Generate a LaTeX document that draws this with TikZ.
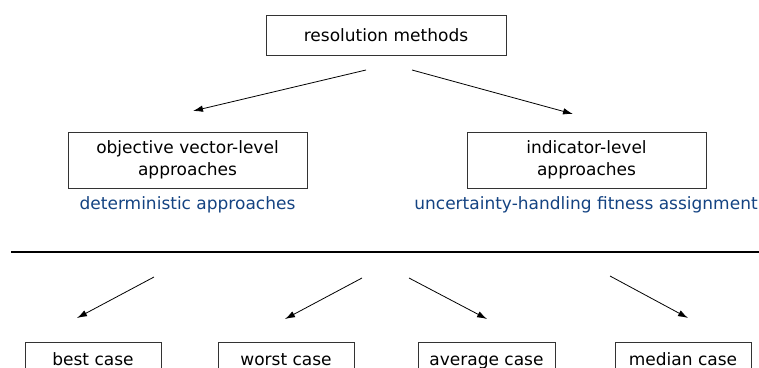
\documentclass[tikz,border=0pt]{standalone}
\usepackage{fontspec}
\setmainfont{DejaVu Sans}
\usetikzlibrary{arrows.meta}
\definecolor{labelblue}{HTML}{144382}
\begin{document}
\begin{tikzpicture}[x=1pt,y=-1pt,
  box/.style={draw=black!80,line width=0.8pt,fill=white,inner sep=0pt,align=center,
    font=\fontsize{17}{22}\selectfont},
  lowbox/.style={box,anchor=north,text height=23pt,text depth=17pt},
  lab/.style={text=labelblue,inner sep=0pt,font=\fontsize{17}{20}\selectfont},
  arr/.style={-{Latex[length=10pt,width=6.5pt]},line width=0.8pt}]
\useasboundingbox (0,0) rectangle (759,367);
\clip (0,0) rectangle (759,367);
% top
\node[box,minimum width=240pt,minimum height=40pt] (top) at (386,35) {resolution methods};
\node[box,minimum width=239pt,minimum height=56pt] (left) at (187.5,160) {objective vector-level\\approaches};
\node[box,minimum width=239pt,minimum height=56pt] (right) at (586.5,160) {indicator-level\\approaches};
\node[lab] (dlab) at (187.5,205) {deterministic approaches};
\node[lab] (ulab) at (586,205) {uncertainty-handling fitness assignment};
\coordinate (t1) at (366,70); \coordinate (e1) at (193,111);
\coordinate (t2) at (412,70); \coordinate (e2) at (573,114);
\draw[arr] (t1) -- (e1);
\draw[arr] (t2) -- (e2);
% separator
\coordinate (sl) at (11,252); \coordinate (sr) at (760,252);
\draw[line width=1.2pt] (sl) -- (sr);
% bottom
\node[lowbox,minimum width=136pt] (best) at (93,342) {best case};
\node[lowbox,minimum width=136pt] (worst) at (286,342) {worst case};
\node[lowbox,minimum width=137pt] (avg) at (486.5,342) {average case};
\node[lowbox,minimum width=136pt] (med) at (683,342) {median case};
\coordinate (b1s) at (154,277); \coordinate (b1e) at (77,318);
\coordinate (b2s) at (362,278); \coordinate (b2e) at (285,319);
\coordinate (b3s) at (409,278); \coordinate (b3e) at (487,319);
\coordinate (b4s) at (610,276); \coordinate (b4e) at (688,318);
\draw[arr] (b1s) -- (b1e);
\draw[arr] (b2s) -- (b2e);
\draw[arr] (b3s) -- (b3e);
\draw[arr] (b4s) -- (b4e);
\end{tikzpicture}
\end{document}
